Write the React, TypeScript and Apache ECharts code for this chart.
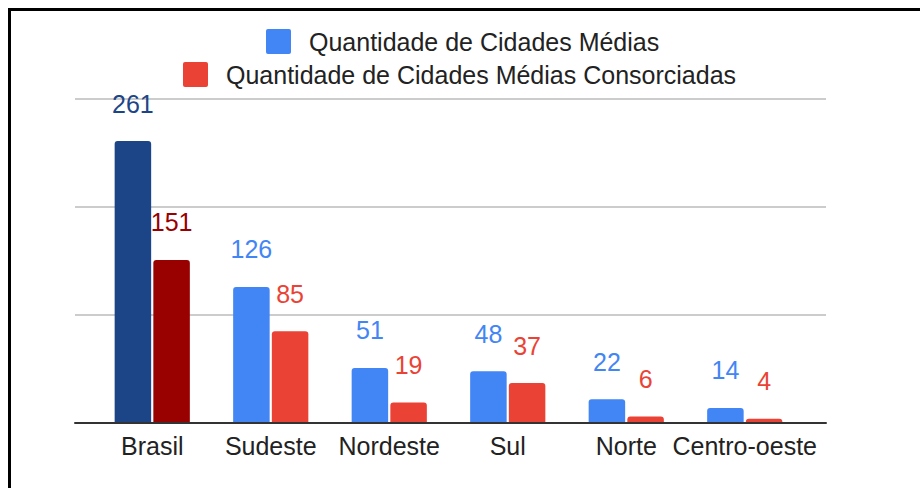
import React, { useEffect, useRef } from "react";
import * as echarts from "echarts";

const categories = ["Brasil", "Sudeste", "Nordeste", "Sul", "Norte", "Centro-oeste"];
const seriesNames = ["Quantidade de Cidades Médias", "Quantidade de Cidades Médias Consorciadas"];
const cidadesMedias = [261, 126, 51, 48, 22, 14];
const consorciadas = [151, 85, 19, 37, 6, 4];
const baseColors = ["#4285f4", "#ea4335"];
const brasilColors = ["#1c4587", "#990000"];

const FONT = "'Liberation Sans', Arial, Helvetica, sans-serif";
const ICON = "path://M2,0H23A2,2 0 0 1 25,2V23A2,2 0 0 1 23,25H2A2,2 0 0 1 0,23V2A2,2 0 0 1 2,0Z";

export default function App() {
  const ref = useRef<HTMLDivElement>(null);
  useEffect(() => {
    if (!ref.current) return;
    const chart = echarts.init(ref.current, null, { renderer: "svg" });
    const mkData = (vals: number[], s: number) =>
      vals.map((v, i) => {
        const c = i === 0 ? brasilColors[s] : baseColors[s];
        return { value: v, itemStyle: { color: c }, label: { color: c } };
      });
    const legendCommon = {
      orient: "horizontal",
      padding: 0,
      itemWidth: 25,
      itemHeight: 25,
      icon: ICON,
      selectedMode: false,
      textStyle: { fontSize: 25, color: "#222222", fontFamily: FONT, padding: [0, 0, 0, 13] },
    };
    chart.setOption({
      animation: false,
      backgroundColor: "#ffffff",
      textStyle: { fontFamily: FONT },
      legend: [
        { ...legendCommon, data: [{ name: seriesNames[0], itemStyle: { color: baseColors[0] } }], left: 266, top: 29 },
        { ...legendCommon, data: [{ name: seriesNames[1], itemStyle: { color: baseColors[1] } }], left: 183, top: 62 },
      ],
      grid: [
        { left: 75, right: 94, top: 99, bottom: 65, containLabel: false },
        { left: 93, right: 116, top: 99, bottom: 65, containLabel: false },
      ],
      xAxis: [
        {
          gridIndex: 0,
          type: "category",
          data: categories,
          axisLine: { show: true, lineStyle: { color: "#333333", width: 2 } },
          axisTick: { show: false },
          axisLabel: { show: false },
          z: 5,
        },
        {
          gridIndex: 1,
          type: "category",
          data: categories,
          axisLine: { show: false },
          axisTick: { show: false },
          axisLabel: { show: true, interval: 0, fontSize: 25, color: "#222222", fontFamily: FONT, margin: 10 },
        },
      ],
      yAxis: [
        {
          gridIndex: 0,
          type: "value",
          min: 0,
          max: 300,
          interval: 100,
          axisLine: { show: false },
          axisTick: { show: false },
          axisLabel: { show: false },
          splitLine: { show: true, lineStyle: { color: "#cccccc", width: 2 } },
        },
        {
          gridIndex: 1,
          type: "value",
          min: 0,
          max: 300,
          interval: 100,
          axisLine: { show: false },
          axisTick: { show: false },
          axisLabel: { show: false },
          splitLine: { show: false },
        },
      ],
      series: [
        {
          name: seriesNames[0],
          type: "bar",
          xAxisIndex: 1,
          yAxisIndex: 1,
          barWidth: 36.5,
          barGap: "6%",
          itemStyle: { color: baseColors[0], borderRadius: [3, 3, 0, 0] },
          label: { show: true, position: "top", distance: 25, fontSize: 25, fontFamily: FONT },
          data: mkData(cidadesMedias, 0),
          z: 3,
        },
        {
          name: seriesNames[1],
          type: "bar",
          xAxisIndex: 1,
          yAxisIndex: 1,
          barWidth: 36.5,
          barGap: "6%",
          itemStyle: { color: baseColors[1], borderRadius: [3, 3, 0, 0] },
          label: { show: true, position: "top", distance: 25, fontSize: 25, fontFamily: FONT },
          data: mkData(consorciadas, 1),
          z: 3,
        },
      ],
      graphic: [
        {
          type: "polyline",
          shape: { points: [[9.5, 488], [9.5, 9.5], [920, 9.5]] },
          style: { stroke: "#000000", lineWidth: 3, fill: "none" },
          z: 10,
        },
      ],
    });
    return () => chart.dispose();
  }, []);
  return (
    <div
      ref={ref}
      style={{ position: "fixed", left: 0, top: 0, width: 920, height: 488, background: "#fff" }}
    />
  );
}
